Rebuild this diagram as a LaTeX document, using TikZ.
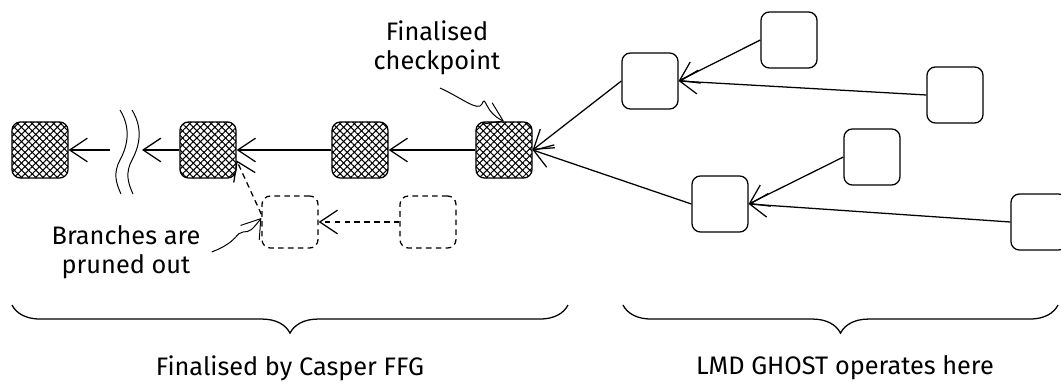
\documentclass[tikz,border=0pt]{standalone}
\usepackage{fontspec}
\setmainfont{Fira Sans}
\usetikzlibrary{arrows.meta,patterns.meta,decorations.pathreplacing}
\begin{document}
\begin{tikzpicture}[x=0.025cm, y=-0.025cm, line width=0.9pt,
    block/.style={draw, rounded corners=6pt, minimum width=1.4cm, minimum height=1.4cm, inner sep=0pt},
    final/.style={block, preaction={pattern={Lines[angle=45,distance=3.6pt,line width=0.75pt]}},
        pattern={Lines[angle=-45,distance=3.6pt,line width=0.75pt]}},
    pruned/.style={block, dash pattern=on 4pt off 3pt, minimum height=1.3cm},
    link/.style={-{Straight Barb[length=9pt,width=12pt,scale=1.4]}},
    note/.style={font=\fontsize{18}{21}\selectfont, align=center},
    bracket/.style={decorate, decoration={brace, mirror, amplitude=20pt}}]
    \useasboundingbox (0,0) rectangle (1061,385);
    % Finalised chain
    \node[final] (b1) at (40,150) {};
    \node[final] (b2) at (208,150) {};
    \node[final] (b3) at (360,150) {};
    \node[final] (b4) at (504,150) {};
    % Break in the chain
    \coordinate (brkL) at (110,150);
    \coordinate (brkR) at (142,150);
    \draw[line width=0.7pt] (120,110) .. controls (131,128) and (128,145) .. (120,160) .. controls (113,173) and (116,183) .. (121,194);
    \draw[line width=0.7pt] (132,110) .. controls (143,128) and (140,145) .. (132,160) .. controls (125,173) and (128,183) .. (133,194);
    \draw[link] (brkL) -- (b1);
    \draw[link] (b2) -- (brkR);
    \draw[link] (b3) -- (b2);
    \draw[link] (b4) -- (b3);
    % Pruned branch
    \node[pruned] (d1) at (290,222) {};
    \node[pruned] (d2) at (428,222) {};
    \draw[link, dash pattern=on 4pt off 3pt] (d2) -- (d1);
    \draw[link, dash pattern=on 4pt off 3pt] (d1.165) -- (b2.-20);
    % Tree after the finalised checkpoint
    \node[block] (r1) at (650,81) {};
    \node[block] (r2) at (789,40) {};
    \node[block] (r3) at (955,95) {};
    \node[block] (r4) at (720,204) {};
    \node[block] (r5) at (872,157) {};
    \node[block] (r6) at (1039,222) {};
    \draw[link] (r1.west) -- (b4.east);
    \draw[link] (r4.west) -- (b4.east);
    \draw[link] (r2.west) -- (r1.east);
    \draw[link] (r3.west) -- (r1.east);
    \draw[link] (r5.west) -- (r4.east);
    \draw[link] (r6.west) -- (r4.east);
    % Labels
    \node[note] (fc) at (437,48) {Finalised\\checkpoint};
    \draw[link, line width=0.7pt] (440,88) .. controls (462,98) and (478,112) .. (482,104) .. controls (486,94) and (484,112) .. (b4.north);
    \node[note] (bp) at (126,252) {Branches are\\pruned out};
    \draw[link, line width=0.7pt] (bp.east) ++(6,0) .. controls (238,242) and (236,232) .. (243,232) .. controls (250,232) and (252,230) .. ([yshift=0.1cm]d1.west);
    % Braces
    \draw[bracket] (12,305) -- (568,305);
    \draw[bracket] (623,305) -- (1058,305);
    \node[note] (ffg) at (290,368) {Finalised by Casper FFG};
    \node[note] (ghost) at (845,368) {LMD GHOST operates here};
\end{tikzpicture}
\end{document}
